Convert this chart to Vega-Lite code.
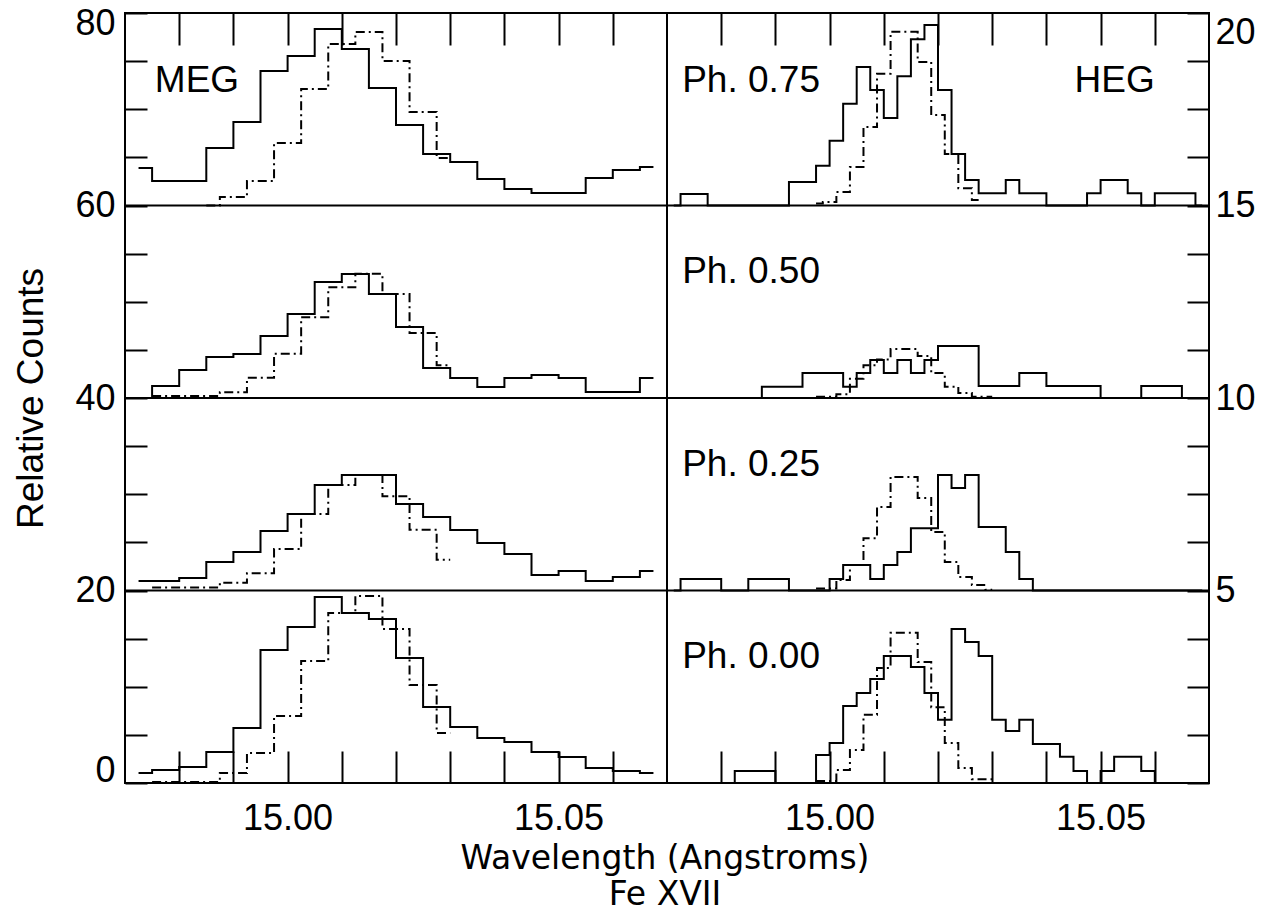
{
  "$schema": "https://vega.github.io/schema/vega-lite/v6.json",
  "background": "white",
  "padding": {"left": 11, "top": 4, "right": 5, "bottom": 0},
  "bounds": "flush",
  "config": {
    "view": {"stroke": "black", "strokeWidth": 2},
    "font": "Liberation Sans",
    "axis": {"labelFont": "Liberation Sans", "labelFontSize": 36, "labelColor": "black", "titleFont": "Liberation Sans", "titleFontSize": 37, "titleFontWeight": "normal", "titleColor": "black", "tickColor": "black", "tickWidth": 2, "domain": false, "grid": false, "labelOverlap": false, "labelBound": false}
  },
  "title": {"text": ["Wavelength (Angstroms)", "Fe XVII"], "orient": "bottom", "anchor": "middle", "font": "DejaVu Sans", "fontSize": 33, "fontWeight": "normal", "color": "black", "lineHeight": 36, "offset": 6, "dx": 31},
  "datasets": {
    "meg": [
      {"s": "solid", "x": 14.9725, "p75": 63.9, "p50": 40.0, "p25": 20.99, "p00": 1.04},
      {"s": "solid", "x": 14.9775, "p75": 62.55, "p50": 41.25, "p25": 20.99, "p00": 1.35},
      {"s": "solid", "x": 14.9825, "p75": 62.55, "p50": 42.91, "p25": 21.3, "p00": 1.66},
      {"s": "solid", "x": 14.9875, "p75": 65.97, "p50": 44.26, "p25": 22.96, "p00": 3.22},
      {"s": "solid", "x": 14.9925, "p75": 68.68, "p50": 44.57, "p25": 24.0, "p00": 5.71},
      {"s": "solid", "x": 14.9975, "p75": 73.97, "p50": 46.44, "p25": 26.18, "p00": 13.82},
      {"s": "solid", "x": 15.0025, "p75": 75.53, "p50": 48.73, "p25": 27.95, "p00": 16.21},
      {"s": "solid", "x": 15.0075, "p75": 78.34, "p50": 52.05, "p25": 30.96, "p00": 19.32},
      {"s": "solid", "x": 15.0125, "p75": 76.26, "p50": 52.88, "p25": 32.0, "p00": 17.66},
      {"s": "solid", "x": 15.0175, "p75": 72.21, "p50": 50.81, "p25": 32.0, "p00": 17.04},
      {"s": "solid", "x": 15.0225, "p75": 68.36, "p50": 47.38, "p25": 28.99, "p00": 12.99},
      {"s": "solid", "x": 15.0275, "p75": 65.35, "p50": 43.12, "p25": 27.64, "p00": 7.9},
      {"s": "solid", "x": 15.0325, "p75": 64.52, "p50": 42.08, "p25": 26.29, "p00": 5.82},
      {"s": "solid", "x": 15.0375, "p75": 62.75, "p50": 41.14, "p25": 24.94, "p00": 4.68},
      {"s": "solid", "x": 15.0425, "p75": 61.71, "p50": 42.08, "p25": 23.79, "p00": 4.26},
      {"s": "solid", "x": 15.0475, "p75": 61.3, "p50": 42.39, "p25": 21.61, "p00": 3.22},
      {"s": "solid", "x": 15.0525, "p75": 61.3, "p50": 42.08, "p25": 22.03, "p00": 2.7},
      {"s": "solid", "x": 15.0575, "p75": 62.86, "p50": 40.62, "p25": 20.99, "p00": 1.56},
      {"s": "solid", "x": 15.0625, "p75": 63.69, "p50": 40.62, "p25": 21.4, "p00": 1.25},
      {"s": "solid", "x": 15.0675, "p75": 64.0, "p50": 42.08, "p25": 22.03, "p00": 1.04},
      {"s": "dashed", "x": 14.975, "p50": 40.2, "p25": 20.3, "p00": 0.1},
      {"s": "dashed", "x": 14.98, "p50": 40.2, "p25": 20.3, "p00": 0.1},
      {"s": "dashed", "x": 14.985, "p75": 60.0, "p50": 40.2, "p25": 20.3, "p00": 0.1},
      {"s": "dashed", "x": 14.99, "p75": 60.88, "p50": 40.6, "p25": 20.8, "p00": 1.04},
      {"s": "dashed", "x": 14.995, "p75": 62.55, "p50": 42.1, "p25": 21.8, "p00": 3.12},
      {"s": "dashed", "x": 15.0, "p75": 66.49, "p50": 44.6, "p25": 24.3, "p00": 6.96},
      {"s": "dashed", "x": 15.005, "p75": 72.1, "p50": 48.4, "p25": 27.95, "p00": 12.67},
      {"s": "dashed", "x": 15.01, "p75": 76.78, "p50": 51.5, "p25": 30.96, "p00": 17.66},
      {"s": "dashed", "x": 15.015, "p75": 78.03, "p50": 52.9, "p25": 32.0, "p00": 19.43},
      {"s": "dashed", "x": 15.02, "p75": 75.01, "p50": 50.8, "p25": 29.8, "p00": 16.0},
      {"s": "dashed", "x": 15.025, "p75": 69.71, "p50": 46.75, "p25": 26.3, "p00": 10.18},
      {"s": "dashed", "x": 15.03, "p75": 64.94, "p50": 43.4, "p25": 23.2, "p00": 5.19}
    ],
    "heg": [
      {"s": "solid", "x": 14.97125, "p75": 15.0, "p50": 10.0, "p25": 5.0, "p00": 0},
      {"s": "solid", "x": 14.97375, "p75": 15.3, "p50": 10.0, "p25": 5.3, "p00": 0},
      {"s": "solid", "x": 14.97625, "p75": 15.3, "p50": 10.0, "p25": 5.3, "p00": 0},
      {"s": "solid", "x": 14.97875, "p75": 15.0, "p50": 10.0, "p25": 5.3, "p00": 0},
      {"s": "solid", "x": 14.98125, "p75": 15.0, "p50": 10.0, "p25": 5.0, "p00": 0},
      {"s": "solid", "x": 14.98375, "p75": 15.0, "p50": 10.0, "p25": 5.0, "p00": 0.31},
      {"s": "solid", "x": 14.98625, "p75": 15.0, "p50": 10.0, "p25": 5.3, "p00": 0.31},
      {"s": "solid", "x": 14.98875, "p75": 15.0, "p50": 10.29, "p25": 5.3, "p00": 0.31},
      {"s": "solid", "x": 14.99125, "p75": 15.0, "p50": 10.29, "p25": 5.3, "p00": 0},
      {"s": "solid", "x": 14.99375, "p75": 15.61, "p50": 10.29, "p25": 5.0, "p00": 0},
      {"s": "solid", "x": 14.99625, "p75": 15.61, "p50": 10.65, "p25": 5.0, "p00": 0},
      {"s": "solid", "x": 14.99875, "p75": 16.03, "p50": 10.65, "p25": 5.0, "p00": 0.73},
      {"s": "solid", "x": 15.00125, "p75": 16.68, "p50": 10.65, "p25": 5.3, "p00": 1.04},
      {"s": "solid", "x": 15.00375, "p75": 17.64, "p50": 10.29, "p25": 5.66, "p00": 2.0},
      {"s": "solid", "x": 15.00625, "p75": 18.6, "p50": 10.65, "p25": 5.66, "p00": 2.34},
      {"s": "solid", "x": 15.00875, "p75": 18.0, "p50": 10.99, "p25": 5.3, "p00": 2.7},
      {"s": "solid", "x": 15.01125, "p75": 17.27, "p50": 10.65, "p25": 5.66, "p00": 3.3},
      {"s": "solid", "x": 15.01375, "p75": 18.36, "p50": 10.99, "p25": 6.0, "p00": 3.3},
      {"s": "solid", "x": 15.01625, "p75": 19.32, "p50": 10.65, "p25": 6.62, "p00": 3.01},
      {"s": "solid", "x": 15.01875, "p75": 19.69, "p50": 10.99, "p25": 6.62, "p00": 2.34},
      {"s": "solid", "x": 15.02125, "p75": 18.0, "p50": 11.35, "p25": 8.0, "p00": 1.64},
      {"s": "solid", "x": 15.02375, "p75": 16.34, "p50": 11.35, "p25": 7.66, "p00": 4.0},
      {"s": "solid", "x": 15.02625, "p75": 15.66, "p50": 11.35, "p25": 8.0, "p00": 3.66},
      {"s": "solid", "x": 15.02875, "p75": 15.32, "p50": 10.31, "p25": 6.65, "p00": 3.3},
      {"s": "solid", "x": 15.03125, "p75": 15.32, "p50": 10.31, "p25": 6.65, "p00": 1.64},
      {"s": "solid", "x": 15.03375, "p75": 15.66, "p50": 10.31, "p25": 6.0, "p00": 1.35},
      {"s": "solid", "x": 15.03625, "p75": 15.32, "p50": 10.65, "p25": 5.3, "p00": 1.64},
      {"s": "solid", "x": 15.03875, "p75": 15.32, "p50": 10.65, "p25": 5.0, "p00": 1.01},
      {"s": "solid", "x": 15.04125, "p75": 15.0, "p50": 10.31, "p25": 5.0, "p00": 1.01},
      {"s": "solid", "x": 15.04375, "p75": 15.0, "p50": 10.31, "p25": 5.0, "p00": 0.68},
      {"s": "solid", "x": 15.04625, "p75": 15.0, "p50": 10.31, "p25": 5.0, "p00": 0.31},
      {"s": "solid", "x": 15.04875, "p75": 15.32, "p50": 10.31, "p25": 5.0, "p00": 0},
      {"s": "solid", "x": 15.05125, "p75": 15.66, "p50": 10.0, "p25": 5.0, "p00": 0.31},
      {"s": "solid", "x": 15.05375, "p75": 15.66, "p50": 10.0, "p25": 5.0, "p00": 0.68},
      {"s": "solid", "x": 15.05625, "p75": 15.32, "p50": 10.0, "p25": 5.0, "p00": 0.68},
      {"s": "solid", "x": 15.05875, "p75": 15.0, "p50": 10.31, "p25": 5.0, "p00": 0.31},
      {"s": "solid", "x": 15.06125, "p75": 15.32, "p50": 10.31, "p25": 5.0, "p00": 0},
      {"s": "solid", "x": 15.06375, "p75": 15.32, "p50": 10.31, "p25": 5.0, "p00": 0},
      {"s": "solid", "x": 15.06625, "p75": 15.32, "p50": 10.0, "p25": 5.0, "p00": 0},
      {"s": "solid", "x": 15.06875, "p75": 15.0, "p50": 10.0, "p25": 5.0, "p00": 0},
      {"s": "dashed", "x": 14.9975, "p75": 15.05, "p50": 10.03, "p25": 5.05, "p00": 0.05},
      {"s": "dashed", "x": 15.0, "p75": 15.09, "p50": 10.03, "p25": 5.05, "p00": 0.05},
      {"s": "dashed", "x": 15.0025, "p75": 15.35, "p50": 10.1, "p25": 5.27, "p00": 0.34},
      {"s": "dashed", "x": 15.005, "p75": 16.0, "p50": 10.5, "p25": 5.66, "p00": 0.86},
      {"s": "dashed", "x": 15.0075, "p75": 17.04, "p50": 10.85, "p25": 6.36, "p00": 1.77},
      {"s": "dashed", "x": 15.01, "p75": 18.42, "p50": 11.0, "p25": 7.17, "p00": 2.99},
      {"s": "dashed", "x": 15.0125, "p75": 19.51, "p50": 11.27, "p25": 7.95, "p00": 3.9},
      {"s": "dashed", "x": 15.015, "p75": 19.51, "p50": 11.27, "p25": 7.95, "p00": 3.9},
      {"s": "dashed", "x": 15.0175, "p75": 18.73, "p50": 11.09, "p25": 7.4, "p00": 3.14},
      {"s": "dashed", "x": 15.02, "p75": 17.35, "p50": 10.65, "p25": 6.52, "p00": 1.97},
      {"s": "dashed", "x": 15.0225, "p75": 16.34, "p50": 10.29, "p25": 5.74, "p00": 1.04},
      {"s": "dashed", "x": 15.025, "p75": 15.45, "p50": 10.13, "p25": 5.35, "p00": 0.39},
      {"s": "dashed", "x": 15.0275, "p75": 15.14, "p50": 10.03, "p25": 5.14, "p00": 0.1},
      {"s": "dashed", "x": 15.03, "p50": 10.03, "p25": 5.02, "p00": 0.1}
    ],
    "rowsMeg": [{"y": 20}, {"y": 40}, {"y": 60}],
    "rowsHeg": [{"y": 5}, {"y": 10}, {"y": 15}],
    "labelsMeg": [{"t": "MEG", "x": 14.9755, "y": 71.8}],
    "labelsHeg": [
      {"t": "Ph. 0.75", "x": 14.9728, "y": 17.95},
      {"t": "Ph. 0.50", "x": 14.9728, "y": 12.98},
      {"t": "Ph. 0.25", "x": 14.9728, "y": 7.97},
      {"t": "Ph. 0.00", "x": 14.9728, "y": 3.0}
    ],
    "labelsHeg2": [{"t": "HEG", "x": 15.06, "y": 17.95}]
  },
  "spacing": 0,
  "hconcat": [
    {
      "width": 542,
      "height": 770,
      "resolve": {"axis": {"x": "independent"}},
      "encoding": {
        "y": {"field": "y", "type": "quantitative", "scale": {"domain": [0, 80], "nice": false, "zero": false},
          "axis": {"orient": "left", "values": [0, 5, 10, 15, 20, 25, 30, 35, 40, 45, 50, 55, 60, 65, 70, 75, 80], "labelExpr": "datum.value % 20 === 0 ? datum.label : ''", "title": "Relative Counts", "tickSize": -22, "labelPadding": 32, "labelFlush": true, "labelFlushOffset": 6.5, "titlePadding": 24}}
      },
      "layer": [
        {
          "data": {"name": "rowsMeg"},
          "mark": {"type": "rule", "stroke": "black", "strokeWidth": 2}
        },
        {
          "data": {"name": "meg"},
          "transform": [{"fold": ["p75", "p50", "p25", "p00"], "as": ["p", "y"]}],
          "mark": {"type": "line", "interpolate": "step", "color": "black", "strokeWidth": 2},
          "encoding": {
            "x": {"field": "x", "type": "quantitative", "scale": {"domain": [14.97, 15.07], "nice": false, "zero": false},
              "axis": {"orient": "bottom", "values": [14.98, 14.99, 15.0, 15.01, 15.02, 15.03, 15.04, 15.05, 15.06], "labelExpr": "abs(datum.value-15)<0.0001 || abs(datum.value-15.05)<0.0001 ? format(datum.value,'.2f') : ''", "title": null, "tickSize": -32, "labelPadding": 50, "labelFlush": false}},
            "detail": {"field": "p", "type": "nominal"},
            "strokeDash": {"field": "s", "type": "nominal", "scale": {"domain": ["solid", "dashed"], "range": [[1, 0], [9, 4, 2, 4]]}, "legend": null}
          }
        },
        {
          "data": {"name": "labelsMeg"},
          "mark": {"type": "text", "align": "left", "baseline": "alphabetic", "font": "Liberation Sans", "fontSize": 37, "color": "black"},
          "encoding": {
            "x": {"field": "x", "type": "quantitative", "scale": {"domain": [14.97, 15.07], "nice": false, "zero": false},
              "axis": {"orient": "top", "values": [14.98, 14.99, 15.0, 15.01, 15.02, 15.03, 15.04, 15.05, 15.06], "labels": false, "title": null, "tickSize": -32}},
            "text": {"field": "t"}
          }
        }
      ]
    },
    {
      "width": 542,
      "height": 770,
      "resolve": {"axis": {"x": "independent"}},
      "encoding": {
        "y": {"field": "y", "type": "quantitative", "scale": {"domain": [0, 20], "nice": false, "zero": false},
          "axis": {"orient": "right", "values": [0, 1.25, 2.5, 3.75, 5, 6.25, 7.5, 8.75, 10, 11.25, 12.5, 13.75, 15, 16.25, 17.5, 18.75, 20], "labelExpr": "datum.value % 5 === 0 && datum.value > 0 ? format(datum.value,'d') : ''", "title": null, "tickSize": -22, "labelPadding": 28, "labelFlush": true, "labelFlushOffset": -2}}
      },
      "layer": [
        {
          "data": {"name": "rowsHeg"},
          "mark": {"type": "rule", "stroke": "black", "strokeWidth": 2}
        },
        {
          "data": {"name": "heg"},
          "transform": [{"fold": ["p75", "p50", "p25", "p00"], "as": ["p", "y"]}],
          "mark": {"type": "line", "interpolate": "step", "color": "black", "strokeWidth": 2},
          "encoding": {
            "x": {"field": "x", "type": "quantitative", "scale": {"domain": [14.97, 15.07], "nice": false, "zero": false},
              "axis": {"orient": "bottom", "values": [14.98, 14.99, 15.0, 15.01, 15.02, 15.03, 15.04, 15.05, 15.06], "labelExpr": "abs(datum.value-15)<0.0001 || abs(datum.value-15.05)<0.0001 ? format(datum.value,'.2f') : ''", "title": null, "tickSize": -32, "labelPadding": 50, "labelFlush": false}},
            "detail": {"field": "p", "type": "nominal"},
            "strokeDash": {"field": "s", "type": "nominal", "scale": {"domain": ["solid", "dashed"], "range": [[1, 0], [9, 4, 2, 4]]}, "legend": null}
          }
        },
        {
          "data": {"name": "labelsHeg"},
          "mark": {"type": "text", "align": "left", "baseline": "alphabetic", "font": "Liberation Sans", "fontSize": 37, "color": "black"},
          "encoding": {
            "x": {"field": "x", "type": "quantitative", "scale": {"domain": [14.97, 15.07], "nice": false, "zero": false},
              "axis": {"orient": "top", "values": [14.98, 14.99, 15.0, 15.01, 15.02, 15.03, 15.04, 15.05, 15.06], "labels": false, "title": null, "tickSize": -32}},
            "text": {"field": "t"}
          }
        },
        {
          "data": {"name": "labelsHeg2"},
          "mark": {"type": "text", "align": "right", "baseline": "alphabetic", "font": "Liberation Sans", "fontSize": 37, "color": "black"},
          "encoding": {
            "x": {"field": "x", "type": "quantitative", "axis": null},
            "text": {"field": "t"}
          }
        }
      ]
    }
  ]
}
